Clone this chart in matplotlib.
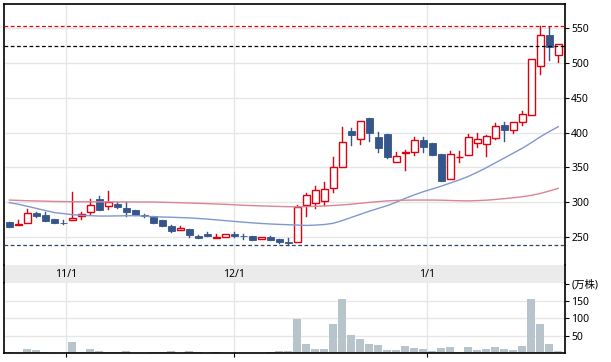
import numpy as np
import matplotlib
matplotlib.use('Agg')
import matplotlib.pyplot as plt
from matplotlib.patches import Rectangle

plt.rcParams['font.family'] = ['Noto Sans', 'Noto Sans CJK JP', 'DejaVu Sans']

# Daily prices (open, high, low, close)
opens = [271.0, 266.7, 269.6, 284.4, 281.5, 275.8, 269.8, 273.9, 280.0, 285.4,
         304.0, 294.5, 297.3, 291.6, 288.7, 282.0, 280.0, 274.3, 265.7, 259.5,
         261.4, 251.3, 254.2, 248.0, 249.4, 254.6, 251.0, 250.9, 246.6, 250.0,
         246.6, 241.5, 242.3, 295.9, 298.4, 301.7, 319.9, 351.0, 402.3, 390.4,
         421.0, 393.7, 398.0, 357.3, 370.2, 371.7, 389.0, 385.0, 369.2, 332.9,
         364.5, 368.2, 385.5, 384.0, 392.7, 410.5, 403.3, 414.8, 425.3, 495.4,
         540.4, 511.6]
highs = [271.5, 274.3, 290.0, 286.3, 286.0, 276.0, 274.0, 315.0, 285.4, 304.5,
         309.3, 315.6, 299.5, 300.2, 289.0, 283.0, 280.2, 274.5, 267.0, 265.3,
         261.5, 252.8, 257.0, 254.2, 253.9, 257.0, 254.2, 251.0, 249.5, 251.5,
         246.7, 248.0, 295.5, 312.7, 323.2, 329.0, 364.9, 408.0, 406.6, 416.3,
         421.1, 400.9, 398.1, 372.0, 375.4, 394.0, 393.7, 385.1, 369.3, 373.6,
         373.6, 398.0, 399.0, 396.0, 413.4, 415.3, 414.9, 431.0, 505.5, 553.3,
         551.4, 527.1]
lows = [264.5, 266.5, 269.5, 278.2, 273.0, 269.4, 268.6, 273.8, 276.2, 283.4,
        288.0, 290.6, 292.0, 280.0, 282.0, 279.0, 270.5, 266.2, 257.5, 259.4,
        249.4, 248.0, 250.9, 247.9, 249.3, 250.0, 247.5, 246.0, 246.5, 246.0,
        240.8, 238.0, 242.2, 280.5, 292.0, 296.4, 315.0, 350.0, 382.6, 384.0,
        388.4, 372.5, 364.0, 357.2, 346.7, 368.2, 372.5, 368.2, 330.8, 332.8,
        358.0, 368.1, 379.7, 366.8, 390.8, 388.4, 400.0, 411.0, 425.2, 484.7,
        504.8, 502.0]
closes = [264.6, 269.0, 284.0, 280.5, 273.3, 269.6, 269.4, 276.8, 283.0, 295.5,
          288.0, 299.8, 293.5, 285.8, 282.0, 279.7, 270.5, 266.2, 258.9, 262.4,
          252.3, 248.5, 250.9, 249.9, 253.8, 251.8, 250.6, 246.0, 249.4, 246.0,
          243.1, 241.1, 292.6, 309.8, 317.0, 318.5, 351.0, 386.0, 397.0, 416.3,
          399.9, 378.3, 365.4, 366.0, 372.5, 389.0, 379.7, 368.2, 330.8, 368.8,
          365.5, 393.3, 390.4, 394.7, 410.0, 404.2, 414.8, 426.3, 505.4, 540.0,
          523.5, 527.0]

# Moving averages
ma_short = [299.3, 297.0, 294.0, 291.0, 288.0, 285.0, 283.5, 282.0, 281.0, 280.5,
            280.0, 280.0, 280.2, 280.4, 280.5, 280.0, 279.0, 278.6, 278.3, 277.8,
            277.3, 276.5, 275.6, 274.5, 273.4, 272.3, 271.2, 270.2, 269.3, 268.6,
            268.0, 267.5, 267.0, 266.5, 267.0, 267.8, 269.6, 273.5, 278.0, 282.5,
            287.0, 291.0, 295.0, 300.0, 305.5, 310.5, 315.0, 319.0, 323.0, 327.5,
            332.0, 337.0, 343.0, 349.5, 356.5, 363.5, 370.5, 377.5, 385.5, 394.0,
            401.5, 408.5]
ma_long = [303.0, 302.5, 302.0, 301.7, 301.4, 301.0, 300.8, 300.6, 300.5, 300.5,
           300.4, 300.4, 300.3, 300.3, 300.3, 300.2, 300.1, 299.8, 299.5, 299.1,
           298.7, 298.3, 297.8, 297.3, 296.8, 296.2, 295.5, 295.0, 294.6, 294.2,
           293.8, 293.4, 293.2, 293.5, 294.0, 294.5, 295.2, 296.0, 297.0, 298.3,
           299.6, 300.8, 301.8, 302.5, 302.8, 303.0, 303.0, 303.0, 302.8, 302.4,
           302.0, 301.8, 302.2, 302.8, 303.8, 305.0, 306.3, 307.8, 309.8, 312.5,
           316.0, 319.9]

# Volume (10k shares)
volume = [4, 1, 12, 8, 4, 0.5, 0.5, 33, 4, 12, 7, 4, 4, 7, 1, 1, 4, 4, 7, 1,
          7, 4, 1, 4, 1, 1, 1, 1, 1, 4, 7, 7, 99, 27, 12, 12, 85, 157, 53, 41,
          27, 24, 10, 10, 21, 15, 12, 7, 15, 18, 4, 18, 10, 12, 18, 12, 10, 21,
          157, 85, 27, 7]

# Month boundaries
month_labels = ['11/1', '12/1', '1/1']
month_pos = [6.27, 25.0, 46.38]

price_high = 553.3
price_ref = 524.1
price_low = 238.0

price_ticks = [250, 300, 350, 400, 450, 500, 550]
vol_ticks = [50, 100, 150, 200]
vol_labels = ['50', '100', '150', '(万株)']

red = '#e00010'
blue = '#34568b'
grid = '#e6e6e6'

W, H = 611, 362
fig = plt.figure(figsize=(W / 100, H / 100), dpi=100)

def box(x0, y0, x1, y1):
    return [x0 / W, 1 - y1 / H, (x1 - x0) / W, (y1 - y0) / H]

xlim = (-0.59, 61.74)
x = np.arange(len(closes))

# ---- price panel
ax = fig.add_axes(box(4, 4, 565, 265))
ax.set_xlim(*xlim)
ax.set_ylim(209.6, 584.9)

for p in price_ticks:
    ax.axhline(p, color=grid, lw=1, zorder=0)
for m in month_pos:
    ax.axvline(m, color=grid, lw=1, zorder=0)

bw = 0.72
for i in x:
    o, h, l, c = opens[i], highs[i], lows[i], closes[i]
    top, bot = max(o, c), min(o, c)
    if c >= o:
        ax.plot([i, i], [top, h], color=red, lw=1.0, zorder=2)
        ax.plot([i, i], [l, bot], color=red, lw=1.0, zorder=2)
        ax.add_patch(Rectangle((i - bw / 2, bot), bw, max(top - bot, 0.6),
                               facecolor='white', edgecolor=red, lw=1.0, zorder=3))
    else:
        ax.plot([i, i], [l, h], color=blue, lw=1.0, zorder=2)
        ax.add_patch(Rectangle((i - bw / 2, bot), bw, max(top - bot, 1.2),
                               facecolor=blue, edgecolor=blue, lw=0.6, zorder=3))

ax.plot(x, ma_short, color='#7f98d0', lw=1.0, zorder=4)
ax.plot(x, ma_long, color='#d98595', lw=1.0, zorder=4)

ax.axhline(price_high, color=red, lw=0.9, ls=(0, (3, 2)), zorder=5)
ax.axhline(price_ref, color='black', lw=0.9, ls=(0, (3, 2)), zorder=5)
ax.axhline(price_low, color='#2e4566', lw=0.9, ls=(0, (3, 2)), zorder=5)

ax.yaxis.tick_right()
ax.set_yticks(price_ticks)
ax.set_yticklabels([str(p) for p in price_ticks])
ax.tick_params(axis='y', length=3, width=0.8, pad=1.5, labelsize=7.5)
ax.set_xticks([])
ax.spines['bottom'].set_visible(False)
for s in ['top', 'left', 'right']:
    ax.spines[s].set_linewidth(1.2)

# ---- date band
band = fig.add_axes(box(4, 265, 565, 283.3))
band.set_xlim(*xlim)
band.set_ylim(0, 1)
band.set_facecolor('#ebebeb')
band.set_xticks([])
band.set_yticks([])
for s in ['top', 'bottom']:
    band.spines[s].set_visible(False)
for s in ['left', 'right']:
    band.spines[s].set_linewidth(1.2)
for m, lab in zip(month_pos, month_labels):
    band.text(m, 0.5, lab, ha='center', va='center', fontsize=7.5)

# ---- volume panel
vax = fig.add_axes(box(4, 283.3, 565, 353))
vax.set_xlim(*xlim)
vax.set_ylim(0, 202)
for v in vol_ticks[:-1]:
    vax.axhline(v, color=grid, lw=1, zorder=0)
for m in month_pos:
    vax.axvline(m, color=grid, lw=1, zorder=0)
vax.bar(x, volume, width=0.9, color='#b8c4cc', zorder=2)
vax.yaxis.tick_right()
vax.set_yticks(vol_ticks)
vax.set_yticklabels(vol_labels)
vax.tick_params(axis='y', length=3, width=0.8, pad=1.5, labelsize=7.5)
vax.set_xticks(month_pos)
vax.set_xticklabels([])
vax.tick_params(axis='x', length=3, width=0.8)
vax.spines['top'].set_visible(False)
for s in ['bottom', 'left', 'right']:
    vax.spines[s].set_linewidth(1.2)

fig.savefig('out.png', dpi=100)
